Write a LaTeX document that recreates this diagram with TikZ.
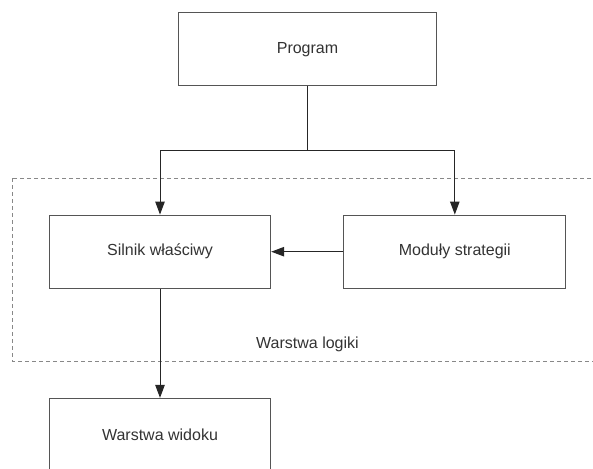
\documentclass[tikz,border=0pt]{standalone}
\usepackage{fontspec}
\setmainfont{Liberation Sans}
\usetikzlibrary{arrows.meta}
\definecolor{txt}{HTML}{333333}
\definecolor{edge}{HTML}{555555}
\definecolor{dash}{HTML}{888888}
\tikzset{
  box/.style={draw=edge, line width=1pt, fill=white, text=txt, font=\fontsize{16}{19}\selectfont, inner sep=0pt},
  arr/.style={draw=black!85, line width=1pt, -{Triangle[length=13pt,width=9.5pt]}},
  link/.style={draw=black!85, line width=1pt},
  layer/.style={draw=dash, line width=1pt, dash pattern=on 4pt off 3pt},
  lbl/.style={text=txt, font=\fontsize{16}{19}\selectfont, inner sep=0pt}
}
\begin{document}
\begin{tikzpicture}[x=1pt,y=-1pt]
\useasboundingbox (0,0) rectangle (593,468);
\clip (0,0) rectangle (593,468);
\draw[layer] (12.7,178.3) rectangle (605,361.7);
\node[lbl] (logiclbl) at (307.5,344) {Warstwa logiki};
\node[box, minimum width=258.4pt, minimum height=73.3pt] (prog) at (307.5,49.3) {Program};
\node[box, minimum width=221.4pt, minimum height=73.3pt] (silnik) at (160,251.7) {Silnik właściwy};
\node[box, minimum width=221.7pt, minimum height=73.3pt] (moduly) at (454.8,251.7) {Moduły strategii};
\node[box, minimum width=221.4pt, minimum height=73.3pt] (widok) at (160,435) {Warstwa widoku};
\coordinate (split) at (307.5,150.7);
\draw[link] (prog.south) -- (split);
\draw[arr] (split) -| (silnik.north);
\draw[arr] (split) -| (moduly.north);
\draw[arr] (moduly.west) -- (silnik.east);
\draw[arr] (silnik.south) -- (widok.north);
\end{tikzpicture}
\end{document}
